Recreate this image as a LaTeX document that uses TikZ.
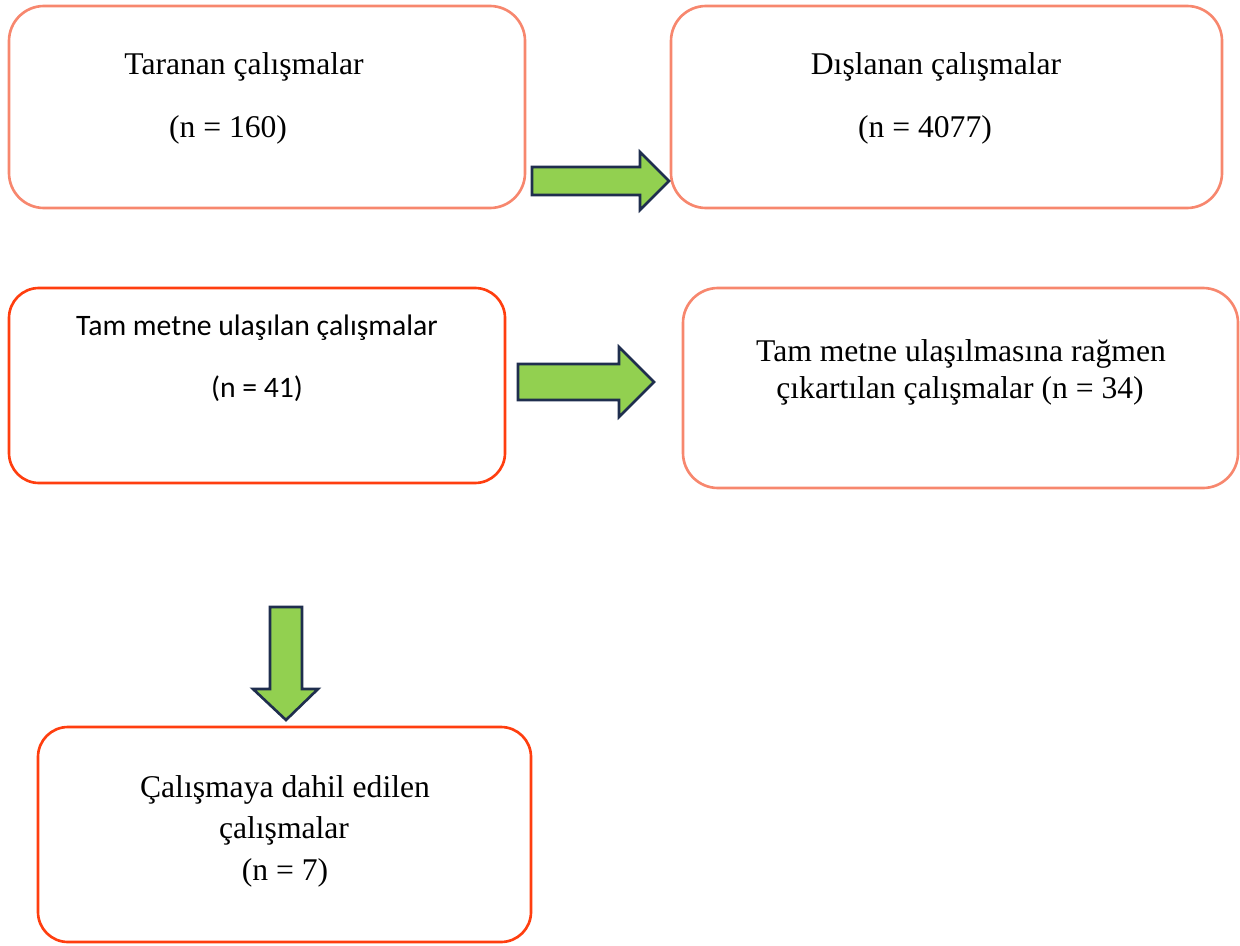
\documentclass[tikz,border=0pt]{standalone}
\usepackage{fontspec}
\setmainfont{Liberation Serif}
\newfontfamily\calibrifont{Carlito}
\definecolor{softred}{RGB}{247,135,110}
\definecolor{hotred}{RGB}{255,62,15}
\definecolor{arrowgreen}{RGB}{146,208,80}
\definecolor{arrownavy}{RGB}{31,46,78}
\tikzset{
  softbox/.style={draw=softred, line width=1.5pt, rounded corners=0.7cm},
  hotbox/.style={draw=hotred, line width=1.5pt, rounded corners=0.6cm},
  serif/.style={anchor=base, font=\fontsize{18}{21}\selectfont},
  sans/.style={anchor=base, font=\calibrifont\fontsize{16.9}{20}\selectfont},
  blockarrow/.style={fill=arrowgreen, draw=arrownavy, line width=1.5pt, line join=miter}
}
\begin{document}
\begin{tikzpicture}[x=0.02cm, y=-0.02cm]
  \useasboundingbox (0,0) rectangle (1240,946);
  % boxes
  \draw[softbox] (9,6) rectangle (525,208);
  \draw[softbox] (671,6) rectangle (1222,208);
  \draw[hotbox] (9,288) rectangle (505,483);
  \draw[softbox] (683,288) rectangle (1238,488);
  \draw[hotbox] (38,727) rectangle (531,942);
  % texts
  \node[serif] (t1a) at (244,75) {Taranan çalışmalar};
  \node[serif] (t1b) at (228,137) {(n = 160)};
  \node[serif] (t2a) at (936,75) {Dışlanan çalışmalar};
  \node[serif] (t2b) at (925,137) {(n = 4077)};
  \node[sans] (t3a) at (257,335) {Tam metne ulaşılan çalışmalar};
  \node[sans] (t3b) at (257,397) {(n = 41)};
  \node[serif] (t4a) at (961,361) {Tam metne ulaşılmasına rağmen};
  \node[serif] (t4b) at (960,398) {çıkartılan çalışmalar (n = 34)};
  \node[serif] (t5a) at (285,797) {Çalışmaya dahil edilen};
  \node[serif] (t5b) at (284,838) {çalışmalar};
  \node[serif] (t5c) at (285,880) {(n = 7)};
  % arrows
  \draw[blockarrow] (532,167) -- (640,167) -- (640,152) -- (669,181)
    -- (640,210) -- (640,195) -- (532,195) -- cycle;
  \draw[blockarrow] (518,364) -- (619,364) -- (619,347) -- (654,382)
    -- (619,417) -- (619,400) -- (518,400) -- cycle;
  \draw[blockarrow] (270,607) -- (302,607) -- (302,689) -- (318,689)
    -- (286,720) -- (253,689) -- (270,689) -- cycle;
\end{tikzpicture}
\end{document}
